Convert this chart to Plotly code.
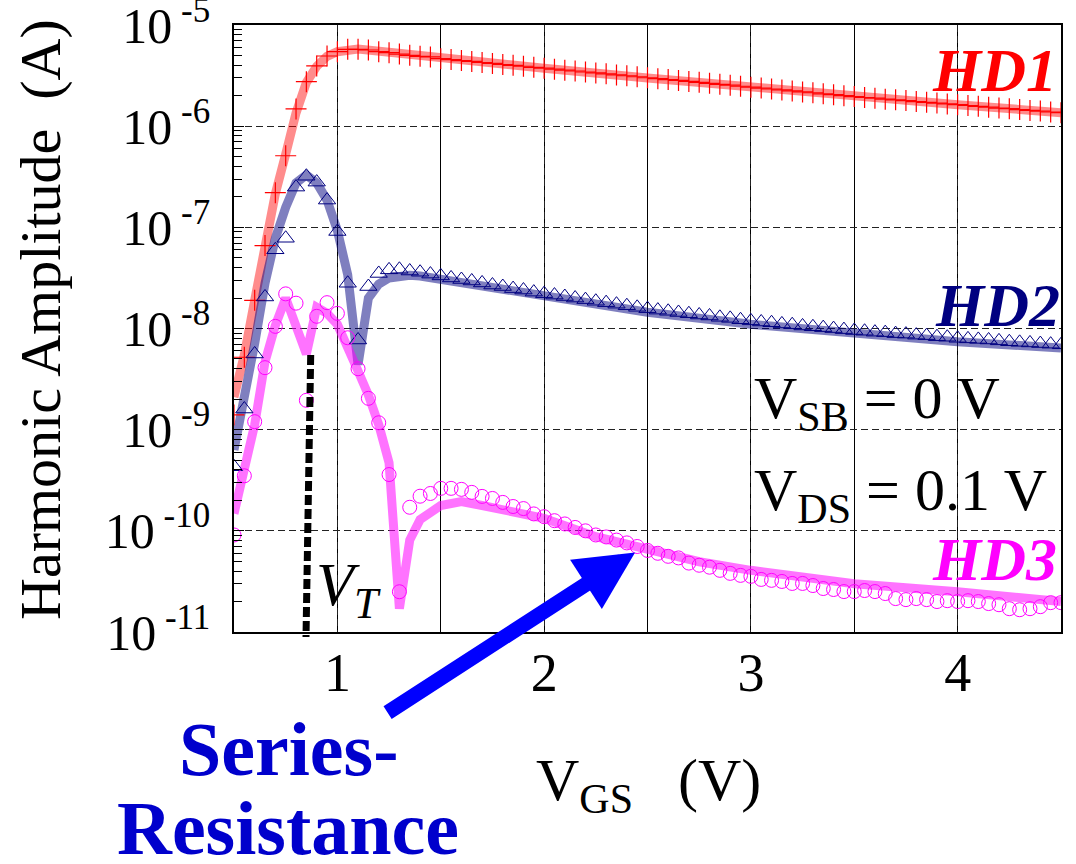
import math
import plotly.graph_objects as go

# Gate bias grid of the measured points (V)
vgs_meas = [0.50, 0.55, 0.60, 0.65, 0.70, 0.75, 0.80, 0.85, 0.90, 0.95,
            1.00, 1.05, 1.10, 1.15, 1.20, 1.25, 1.30, 1.35, 1.40, 1.45,
            1.50, 1.55, 1.60, 1.65, 1.70, 1.75, 1.80, 1.85, 1.90, 1.95,
            2.00, 2.05, 2.10, 2.15, 2.20, 2.25, 2.30, 2.35, 2.40, 2.45,
            2.50, 2.55, 2.60, 2.65, 2.70, 2.75, 2.80, 2.85, 2.90, 2.95,
            3.00, 3.05, 3.10, 3.15, 3.20, 3.25, 3.30, 3.35, 3.40, 3.45,
            3.50, 3.55, 3.60, 3.65, 3.70, 3.75, 3.80, 3.85, 3.90, 3.95,
            4.00, 4.05, 4.10, 4.15, 4.20, 4.25, 4.30, 4.35, 4.40, 4.45,
            4.50]

# Measured harmonic amplitudes (A)
hd1_meas = [1.4e-9, 5.2e-9, 1.9e-8, 6.6e-8, 2.2e-7, 5.1e-7, 1.48e-6, 2.75e-6, 3.94e-6, 4.94e-6,
            5.45e-6, 5.75e-6, 5.75e-6, 5.66e-6, 5.45e-6, 5.33e-6, 5.16e-6, 5.01e-6, 4.90e-6, 4.83e-6,
            4.65e-6, 4.55e-6, 4.45e-6, 4.36e-6, 4.26e-6, 4.17e-6, 4.07e-6, 3.99e-6, 3.91e-6, 3.82e-6,
            3.74e-6, 3.66e-6, 3.58e-6, 3.51e-6, 3.43e-6, 3.36e-6, 3.29e-6, 3.21e-6, 3.15e-6, 3.08e-6,
            3.01e-6, 2.95e-6, 2.89e-6, 2.83e-6, 2.77e-6, 2.71e-6, 2.65e-6, 2.59e-6, 2.54e-6, 2.48e-6,
            2.43e-6, 2.38e-6, 2.33e-6, 2.28e-6, 2.23e-6, 2.18e-6, 2.14e-6, 2.09e-6, 2.05e-6, 2.00e-6,
            1.96e-6, 1.92e-6, 1.89e-6, 1.85e-6, 1.82e-6, 1.79e-6, 1.75e-6, 1.72e-6, 1.69e-6, 1.66e-6,
            1.63e-6, 1.60e-6, 1.57e-6, 1.54e-6, 1.51e-6, 1.49e-6, 1.46e-6, 1.43e-6, 1.41e-6, 1.38e-6,
            1.36e-6]

hd2_meas = [4.3e-10, 1.6e-9, 5.6e-9, 2.05e-8, 6.0e-8, 7.8e-8, 2.5e-7, 3.2e-7, 2.8e-7, 1.86e-7,
            9.1e-8, 2.8e-8, 7.7e-9, 2.6e-8, 3.5e-8, 3.8e-8, 3.85e-8, 3.7e-8, 3.6e-8, 3.45e-8,
            3.31e-8, 3.16e-8, 3.05e-8, 2.95e-8, 2.82e-8, 2.69e-8, 2.60e-8, 2.48e-8, 2.40e-8, 2.29e-8,
            2.21e-8, 2.14e-8, 2.07e-8, 2.00e-8, 1.93e-8, 1.86e-8, 1.80e-8, 1.74e-8, 1.68e-8, 1.62e-8,
            1.57e-8, 1.52e-8, 1.48e-8, 1.44e-8, 1.40e-8, 1.36e-8, 1.33e-8, 1.29e-8, 1.26e-8, 1.22e-8,
            1.19e-8, 1.16e-8, 1.14e-8, 1.11e-8, 1.09e-8, 1.06e-8, 1.04e-8, 1.02e-8, 9.98e-9, 9.75e-9,
            9.55e-9, 9.4e-9, 9.2e-9, 9.1e-9, 8.9e-9, 8.8e-9, 8.6e-9, 8.5e-9, 8.3e-9, 8.2e-9,
            8.0e-9, 7.9e-9, 7.8e-9, 7.7e-9, 7.55e-9, 7.4e-9, 7.3e-9, 7.2e-9, 7.1e-9, 7.0e-9,
            6.9e-9]

hd3_meas = [9.1e-11, 3.5e-10, 1.2e-9, 4.1e-9, 1.05e-8, 2.2e-8, 1.78e-8, 1.95e-9, 1.32e-8, 1.8e-8,
            1.41e-8, 8.1e-9, 4.0e-9, 2.04e-9, 1.17e-9, 3.6e-10, 2.5e-11, 1.71e-10, 2.2e-10, 2.34e-10,
            2.63e-10, 2.63e-10, 2.57e-10, 2.40e-10, 2.19e-10, 2.09e-10, 1.91e-10, 1.74e-10, 1.66e-10, 1.47e-10,
            1.38e-10, 1.26e-10, 1.17e-10, 1.08e-10, 1.00e-10, 9.1e-11, 8.7e-11, 8.1e-11, 7.6e-11, 7.0e-11,
            6.4e-11, 6.0e-11, 5.6e-11, 5.4e-11, 4.8e-11, 4.57e-11, 4.37e-11, 4.07e-11, 3.80e-11, 3.63e-11,
            3.55e-11, 3.31e-11, 3.24e-11, 3.16e-11, 3.02e-11, 3.02e-11, 2.88e-11, 2.69e-11, 2.63e-11, 2.51e-11,
            2.51e-11, 2.57e-11, 2.51e-11, 2.40e-11, 2.14e-11, 2.09e-11, 2.14e-11, 2.09e-11, 2.00e-11, 2.04e-11,
            2.00e-11, 2.04e-11, 2.00e-11, 1.91e-11, 1.86e-11, 1.70e-11, 1.66e-11, 1.70e-11, 1.78e-11, 1.95e-11,
            1.95e-11]

# Simulated harmonic amplitudes (A)
vgs_hd1_sim = [0.5, 0.55, 0.6, 0.65, 0.7, 0.75, 0.8, 0.85, 0.9, 0.95, 1.0, 1.1, 1.2, 1.3,
               1.5, 2.0, 2.5, 3.0, 3.5, 4.0, 4.5]
hd1_sim = [2.1e-9, 5.5e-9, 1.9e-8, 6.5e-8, 2.15e-7, 5.3e-7, 1.35e-6, 2.7e-6, 3.9e-6, 4.9e-6,
           5.45e-6, 5.8e-6, 5.5e-6, 5.2e-6, 4.65e-6, 3.74e-6, 3.0e-6, 2.43e-6, 1.96e-6, 1.63e-6,
           1.36e-6]

vgs_hd2_sim = [0.5, 0.55, 0.6, 0.65, 0.7, 0.75, 0.8, 0.85, 0.9, 0.95, 1.0, 1.05, 1.1, 1.15,
               1.2, 1.25, 1.3, 1.35, 1.4, 1.5, 2.0, 2.5, 3.0, 3.5, 4.0, 4.5]
hd2_sim = [6.3e-10, 2.0e-9, 7.1e-9, 2.8e-8, 7.8e-8, 1.58e-7, 2.75e-7, 3.3e-7, 2.75e-7, 1.86e-7,
           9.3e-8, 3.4e-8, 4.4e-9, 2.0e-8, 2.75e-8, 3.16e-8, 3.3e-8, 3.36e-8, 3.3e-8, 3.06e-8,
           2.04e-8, 1.45e-8, 1.10e-8, 8.8e-9, 7.4e-9, 6.4e-9]

vgs_hd3_sim = [0.5, 0.55, 0.6, 0.65, 0.7, 0.75, 0.8, 0.85, 0.9, 0.95, 1.0, 1.05, 1.1, 1.15,
               1.2, 1.25, 1.3, 1.35, 1.4, 1.5, 1.6, 1.7, 1.8, 1.9, 2.0, 2.25, 2.5, 2.75,
               3.0, 3.5, 4.0, 4.5]
hd3_sim = [1.48e-10, 3.8e-10, 1.12e-9, 4.7e-9, 1.07e-8, 2.0e-8, 1.1e-8, 5.6e-9, 1.62e-8, 1.41e-8,
           1.10e-8, 6.8e-9, 3.8e-9, 2.2e-9, 1.12e-9, 4.7e-10, 1.7e-11, 8.1e-11, 1.29e-10, 1.78e-10,
           1.95e-10, 1.78e-10, 1.62e-10, 1.51e-10, 1.33e-10, 8.75e-11, 6.7e-11, 4.95e-11,
           4.07e-11, 3.0e-11, 2.5e-11, 2.0e-11]

# Axis ticks
x_ticks = [1, 2, 3, 4]
y_ticks = [1e-11, 1e-10, 1e-9, 1e-8, 1e-7, 1e-6, 1e-5]
y_ticktext = ["10<sup> -11</sup>", "10<sup> -10</sup>", "10<sup> -9</sup>", "10<sup> -8</sup>",
              "10<sup> -7</sup>", "10<sup> -6</sup>", "10<sup> -5</sup>"]

# Arrow target on the HD3 curve (V, A)
arrow_target = (2.44, 6.1e-11)

SERIF = "Liberation Serif"
RED = "#ff0000"
NAVY = "#000080"
MAGENTA = "#ff00ff"

W, H = 1076, 864
ML, MR, MT, MB = 234, 15, 25, 232
PW, PH = W - ML - MR, H - MT - MB


def px(xp):
    return (xp - ML) / PW


def py(yp):
    return 1 - (yp - MT) / PH


fig = go.Figure()

sim_styles = [(vgs_hd1_sim, hd1_sim, "rgba(255,0,0,0.45)"),
              (vgs_hd2_sim, hd2_sim, "rgba(0,0,128,0.5)"),
              (vgs_hd3_sim, hd3_sim, "rgba(255,0,255,0.55)")]
for xs, ys, col in sim_styles:
    fig.add_trace(go.Scatter(x=xs, y=ys, mode="lines",
                             line=dict(color=col, width=9),
                             showlegend=False, hoverinfo="skip"))

fig.add_trace(go.Scatter(x=vgs_meas, y=hd1_meas, mode="markers", showlegend=False,
                         marker=dict(symbol="cross-thin-open", size=15, color=RED,
                                     line=dict(color=RED, width=1.2))))
fig.add_trace(go.Scatter(x=vgs_meas, y=hd2_meas, mode="markers", showlegend=False,
                         marker=dict(symbol="triangle-up-open", size=15, color=NAVY,
                                     line=dict(color=NAVY, width=1))))
fig.add_trace(go.Scatter(x=vgs_meas, y=hd3_meas, mode="markers", showlegend=False,
                         marker=dict(symbol="circle-open", size=14, color=MAGENTA,
                                     line=dict(color=MAGENTA, width=1))))

fig.update_xaxes(
    range=[0.5, 4.5], tickvals=x_ticks, ticks="", automargin=False,
    showline=True, linecolor="black", linewidth=1.5, mirror=True,
    showgrid=True, gridcolor="#222", gridwidth=1, griddash="7px,4px",
    minor=dict(tick0=0.5, dtick=0.5, showgrid=True, gridcolor="black", gridwidth=1,
               griddash="solid", ticks=""),
    tickfont=dict(family=SERIF, size=54, color="black"),
    ticklabelstandoff=-8, zeroline=False,
)
fig.update_yaxes(
    type="log", range=[-11, -5], tickvals=y_ticks, ticktext=y_ticktext,
    ticks="inside", ticklen=10, tickcolor="black", automargin=False,
    showline=True, linecolor="black", linewidth=1.5, mirror=True,
    showgrid=True, gridcolor="#222", gridwidth=1, griddash="7px,4px",
    minor=dict(ticks="inside", ticklen=8, tickcolor="black", dtick="D1", showgrid=False),
    tickfont=dict(family=SERIF, size=50, color="black"),
    ticklabelstandoff=12, ticklabeloverflow="allow", zeroline=False,
)

annotations = [
    dict(text="<b><i>HD1</i></b>", x=px(1059), y=py(70), xanchor="right", yanchor="middle",
         font=dict(family=SERIF, size=62, color=RED)),
    dict(text="<b><i>HD2</i></b>", x=px(1062), y=py(305), xanchor="right", yanchor="middle",
         font=dict(family=SERIF, size=62, color=NAVY)),
    dict(text="<b><i>HD3</i></b>", x=px(1059), y=py(559), xanchor="right", yanchor="middle",
         font=dict(family=SERIF, size=62, color=MAGENTA)),
    dict(text="V<sub>SB</sub> = 0 V", x=px(752), y=py(402), xanchor="left", yanchor="middle",
         font=dict(family=SERIF, size=60, color="black")),
    dict(text="V<sub>DS</sub> = 0.1 V", x=px(752), y=py(494), xanchor="left", yanchor="middle",
         font=dict(family=SERIF, size=60, color="black")),
    dict(text="<i>V<sub>T</sub></i>", x=px(314), y=py(588), xanchor="left", yanchor="middle",
         font=dict(family=SERIF, size=62, color="black")),
    dict(text="<b>Series-</b>", x=px(288), y=py(749), xanchor="center", yanchor="middle",
         font=dict(family=SERIF, size=76, color="#0000cc")),
    dict(text="<b>Resistance</b>", x=px(288), y=py(828), xanchor="center", yanchor="middle",
         font=dict(family=SERIF, size=76, color="#0000cc")),
    dict(text="Harmonic Amplitude\u00a0\u00a0(A)", x=px(40), y=py(320), xanchor="center",
         yanchor="middle", textangle=-90,
         font=dict(family=SERIF, size=58, color="black")),
    dict(text="V<sub>GS</sub>\u00a0\u00a0\u00a0(V)", x=px(648), y=py(784), xanchor="center",
         yanchor="middle", font=dict(family=SERIF, size=60, color="black")),
]
for a in annotations:
    a.update(xref="paper", yref="paper", showarrow=False)

annotations.append(dict(
    x=arrow_target[0], y=math.log10(arrow_target[1]), xref="x", yref="y",
    ax=-249, ay=161, text="", showarrow=True,
    arrowhead=2, arrowsize=0.78, arrowwidth=15, arrowcolor="#0000ff",
))

fig.update_layout(
    width=W, height=H,
    margin=dict(l=ML, r=MR, t=MT, b=MB),
    paper_bgcolor="white", plot_bgcolor="white",
    annotations=annotations,
    shapes=[dict(type="line", xref="paper", yref="paper",
                 x0=px(310.7), y0=py(355), x1=px(306), y1=py(637),
                 line=dict(color="black", width=7, dash="10px,4px"))],
)

fig.write_html("out.html")
